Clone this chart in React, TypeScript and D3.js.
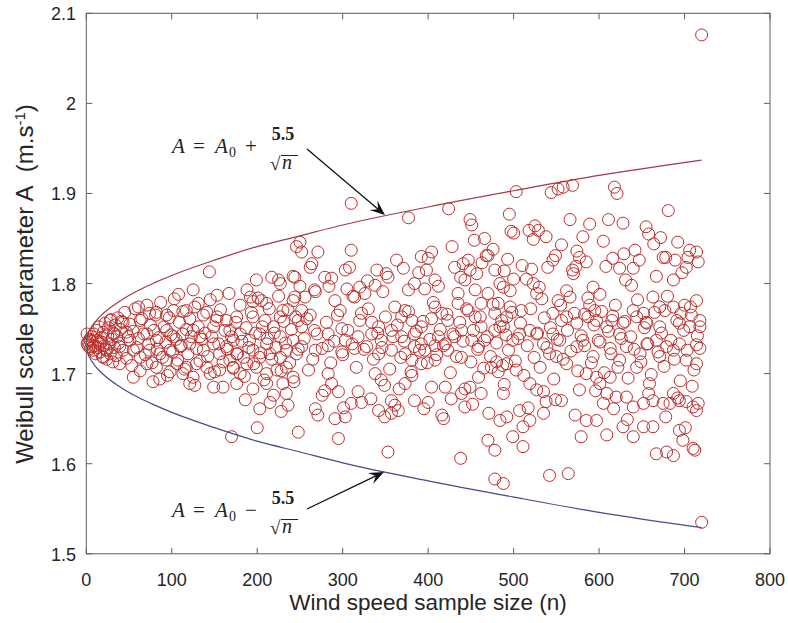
import React from "react";
import * as d3 from "d3";

// ---------- data ----------
const xTicks = [0, 100, 200, 300, 400, 500, 600, 700, 800];
const yTicks = [1.5, 1.6, 1.7, 1.8, 1.9, 2.0, 2.1];
const yTickLabels = ["1.5", "1.6", "1.7", "1.8", "1.9", "2", "2.1"];

const upperN = [0, 2, 5, 10, 20, 40, 60, 80, 100, 150, 200, 250, 300, 400, 500, 600, 720];
const upperA = [1.733, 1.744, 1.750, 1.757, 1.767, 1.781, 1.792, 1.801, 1.809, 1.826, 1.841, 1.853, 1.865, 1.885, 1.903, 1.920, 1.937];
const lowerN = [0, 2, 5, 10, 20, 40, 60, 80, 100, 150, 200, 250, 300, 400, 500, 600, 720];
const lowerA = [1.733, 1.722, 1.716, 1.709, 1.699, 1.685, 1.674, 1.665, 1.657, 1.640, 1.625, 1.613, 1.601, 1.581, 1.563, 1.546, 1.529];

const sampleN = [
  // dense start
  1, 2, 3, 4, 5, 6, 7, 8, 9, 10, 11, 12, 13, 14, 15, 16, 17, 18, 19, 20,
  21, 22, 23, 24, 25, 26, 27, 28, 29, 30, 31, 32, 33, 34, 35, 36, 37, 38, 39, 40,
  // n 0-250
  144, 199, 217, 225, 227, 242, 125, 108, 153, 188, 192, 205, 211, 195, 230, 242, 227,
  131, 117, 102, 94, 82, 61, 74, 63, 141, 153, 164, 176, 149, 168, 180,
  195, 209, 219, 203, 191, 211, 227, 242, 28, 43, 32, 47, 51, 39, 24, 16, 4, 1, 8, 20,
  71, 82, 94, 102, 113, 125, 133, 121, 110, 98, 86, 74, 63, 55,
  137, 149, 156, 164, 172, 176, 184, 168, 195, 203, 215, 227, 234, 246,
  71, 82, 94, 106, 117, 129, 113, 98, 141, 145, 156, 172, 180, 188, 199, 211, 223, 234, 242,
  55, 78, 86, 121, 127, 149, 160, 176, 195, 211, 230, 234, 170, 200, 246,
  41, 43, 45, 47, 49, 51, 53, 55, 57, 59, 61, 63, 65, 67, 69, 71, 73, 75, 77, 79,
  81, 83, 85, 87, 89, 91, 93, 95, 97, 99, 101, 103, 105, 107, 109, 111, 113, 115, 117, 119,
  121, 123, 125, 127, 129, 131, 133, 135, 137, 139,
  142, 145, 147, 150, 152, 155, 157, 160, 162, 165, 167, 170, 172, 175, 177, 180, 182, 185, 187, 190,
  193, 196, 198, 201, 204, 206, 208, 212, 214, 217, 220, 222, 225, 228, 231, 233, 236, 238, 240, 243,
  245, 248, 250, 236, 215, 186, 203, 228, 219,
  // n 244-500 upper
  310, 377, 424, 449, 451, 466, 468, 250, 252, 271, 310,
  262, 264, 279, 287, 303, 308, 340, 351, 353, 371,
  392, 404, 400, 398, 408, 384, 377, 396,
  431, 441, 447, 449, 457, 470, 443, 435, 455,
  478, 484, 470, 482, 462, 478, 244, 244, 256, 267, 252, 248, 262,
  291, 297, 305, 320, 326, 314, 338, 322, 334, 342,
  361, 373, 369, 381, 392, 408, 416, 423, 404,
  435, 447, 455, 462, 439, 431, 451, 466, 478, 486,
  252, 267, 283, 299, 303, 318, 334, 345, 357, 369, 384, 392, 412, 420,
  // n 244-500 lower
  252, 268, 283, 299, 314, 328, 342, 357, 373, 384, 396, 408, 423, 439, 459,
  260, 283, 287, 279, 295, 318, 322, 310, 268, 271, 291, 303,
  338, 345, 349, 373, 381, 404, 420, 342, 349, 357, 365, 357, 361,
  384, 400, 416, 418, 443, 439, 449, 459, 462, 474, 482, 480, 443, 470, 478, 484,
  248, 295, 353, 438, 478, 381, 392, 408,
  // n 480-720 upper
  503, 544, 552, 558, 569, 618, 621, 681, 495, 566, 589, 581, 611, 628, 655, 658, 664,
  497, 500, 518, 525, 529, 538, 523, 692, 706, 714, 704, 678, 689, 702,
  574, 577, 573, 570, 569, 549, 546, 540, 510, 616, 608, 629, 642, 624, 640, 631, 638,
  667, 687, 675, 489, 500, 488, 496, 515, 523, 530, 527, 533, 562, 566, 552,
  593, 601, 589, 583, 595, 616, 640, 644, 652, 655, 663, 671, 677, 687, 700, 714, 696, 708, 718,
  546, 556, 562, 574, 587, 597, 615, 628, 509, 496, 492,
  // n 480-720 lower
  488, 499, 507, 519, 527, 535, 546, 554, 542, 550, 562, 574, 581, 593, 601, 609, 613, 624,
  632, 644, 648, 656, 667, 671, 679, 687, 694, 702, 714, 714, 718, 706, 694, 656, 671, 624,
  492, 503, 488, 519, 527, 535, 538, 556, 535, 577, 585, 597, 601, 613, 609, 605, 620, 632,
  640, 652, 659, 663, 675, 683, 694, 702, 710, 714, 687, 694, 698, 710, 667, 679, 687,
  492, 499, 507, 511, 519, 511, 488, 542, 564, 579, 609, 585, 597, 640, 628, 652, 663,
  // central band n 250-720
  255, 258, 265, 270, 276, 281, 286, 290, 294, 300, 306, 311, 316, 320, 325, 330, 336, 341, 346, 350,
  355, 359, 364, 368, 372, 377, 380, 386, 390, 394, 399, 402, 406, 410, 414, 418, 422, 426, 429, 433,
  437, 441, 445, 450, 453, 458, 461, 465, 469, 473, 476, 480, 484, 487, 491, 494, 498, 502, 505, 508,
  512, 516, 520, 524, 528, 531, 536, 539, 543, 547, 551, 555, 558, 563, 567, 571, 575, 579, 583, 587,
  591, 594, 599, 603, 606, 611, 614, 619, 622, 626, 630, 634, 637, 641, 645, 649, 653, 657, 661, 665,
  669, 673, 676, 680, 684, 688, 691, 695, 699, 703, 707, 711, 715, 718,
  268, 284, 312, 329, 347, 363, 389, 412, 428, 438, 454, 463, 476, 493, 521, 556, 585, 605, 647, 672, 697, 716,
  276, 301, 333, 366, 395, 427, 452, 471, 489, 517, 549, 572, 596, 617, 633, 658, 678, 692, 709, 716, 701, 712,
  720, 720,
];
const sampleA = [
  1.733, 1.735, 1.730, 1.738, 1.728, 1.741, 1.736, 1.726, 1.744, 1.731, 1.722, 1.748, 1.737, 1.729, 1.752, 1.724, 1.740, 1.735, 1.719, 1.746,
  1.731, 1.756, 1.727, 1.716, 1.742, 1.751, 1.733, 1.722, 1.760, 1.738, 1.713, 1.745, 1.729, 1.754, 1.720, 1.741, 1.762, 1.734, 1.711, 1.749,
  1.813, 1.804, 1.807, 1.804, 1.800, 1.808, 1.793, 1.788, 1.787, 1.793, 1.785, 1.781, 1.778, 1.780, 1.770, 1.781, 1.763,
  1.778, 1.770, 1.770, 1.765, 1.768, 1.774, 1.767, 1.759, 1.768, 1.763, 1.759, 1.763, 1.752, 1.748, 1.744,
  1.763, 1.759, 1.752, 1.744, 1.737, 1.733, 1.741, 1.737, 1.759, 1.757, 1.744, 1.746, 1.737, 1.730, 1.726, 1.733, 1.737, 1.744, 1.730, 1.718,
  1.744, 1.737, 1.748, 1.741, 1.744, 1.748, 1.741, 1.733, 1.730, 1.726, 1.722, 1.726, 1.718, 1.726,
  1.726, 1.733, 1.722, 1.730, 1.737, 1.722, 1.718, 1.715, 1.726, 1.718, 1.722, 1.718, 1.726, 1.722,
  1.711, 1.707, 1.715, 1.711, 1.707, 1.711, 1.700, 1.702, 1.707, 1.700, 1.704, 1.707, 1.700, 1.711, 1.707, 1.700, 1.704, 1.707, 1.696,
  1.696, 1.691, 1.694, 1.689, 1.687, 1.685, 1.685, 1.689, 1.683, 1.689, 1.689, 1.678, 1.630, 1.640, 1.841,
  1.758, 1.726, 1.768, 1.717, 1.741, 1.755, 1.709, 1.747, 1.772, 1.729, 1.739, 1.703, 1.761, 1.744, 1.721, 1.776, 1.733, 1.754, 1.712, 1.748,
  1.765, 1.727, 1.740, 1.779, 1.718, 1.752, 1.735, 1.698, 1.762, 1.743, 1.724, 1.783, 1.738, 1.715, 1.757, 1.731, 1.769, 1.705, 1.749, 1.722,
  1.761, 1.741, 1.696, 1.774, 1.728, 1.752, 1.714, 1.738, 1.765, 1.745,
  1.719, 1.782, 1.741, 1.702, 1.759, 1.733, 1.771, 1.713, 1.748, 1.727, 1.789, 1.741, 1.706, 1.757, 1.722, 1.776, 1.736, 1.697, 1.751, 1.729,
  1.768, 1.711, 1.745, 1.784, 1.723, 1.752, 1.693, 1.739, 1.772, 1.716, 1.745, 1.729, 1.786, 1.703, 1.758, 1.734, 1.771, 1.712, 1.749, 1.691,
  1.763, 1.727, 1.797, 1.665, 1.668, 1.671, 1.661, 1.658, 1.676,
  1.889, 1.873, 1.883, 1.871, 1.865, 1.850, 1.831, 1.846, 1.835, 1.835, 1.837,
  1.818, 1.822, 1.807, 1.806, 1.815, 1.818, 1.815, 1.811, 1.807, 1.817,
  1.830, 1.835, 1.828, 1.815, 1.804, 1.800, 1.793, 1.794,
  1.818, 1.822, 1.826, 1.815, 1.811, 1.831, 1.804, 1.789, 1.793,
  1.815, 1.800, 1.789, 1.778, 1.778, 1.767, 1.807, 1.785, 1.785, 1.793, 1.770, 1.759, 1.765,
  1.781, 1.770, 1.794, 1.796, 1.789, 1.785, 1.798, 1.767, 1.757, 1.752,
  1.774, 1.770, 1.763, 1.759, 1.752, 1.774, 1.767, 1.759, 1.761,
  1.778, 1.770, 1.763, 1.752, 1.748, 1.741, 1.737, 1.737, 1.748, 1.759,
  1.752, 1.748, 1.744, 1.750, 1.737, 1.741, 1.744, 1.737, 1.748, 1.741, 1.744, 1.733, 1.741, 1.733,
  1.730, 1.726, 1.731, 1.724, 1.728, 1.730, 1.722, 1.726, 1.722, 1.730, 1.726, 1.731, 1.726, 1.718, 1.730,
  1.704, 1.700, 1.689, 1.681, 1.680, 1.680, 1.668, 1.667, 1.661, 1.654, 1.650, 1.652,
  1.700, 1.693, 1.687, 1.689, 1.698, 1.685, 1.685, 1.659, 1.652, 1.656, 1.659, 1.670, 1.665,
  1.670, 1.668, 1.654, 1.650, 1.683, 1.678, 1.685, 1.696, 1.678, 1.707, 1.702, 1.713, 1.663, 1.626, 1.615, 1.648,
  1.635, 1.628, 1.613, 1.606, 1.583, 1.715, 1.711, 1.715,
  1.902, 1.901, 1.905, 1.907, 1.909, 1.907, 1.900, 1.881, 1.877, 1.871, 1.866, 1.852, 1.871, 1.867, 1.863, 1.855, 1.844,
  1.858, 1.856, 1.859, 1.864, 1.859, 1.852, 1.849, 1.846, 1.837, 1.835, 1.829, 1.829, 1.826, 1.818,
  1.836, 1.829, 1.819, 1.811, 1.815, 1.831, 1.826, 1.818, 1.820, 1.828, 1.819, 1.833, 1.837, 1.817, 1.817, 1.804, 1.798,
  1.808, 1.804, 1.829, 1.814, 1.805, 1.796, 1.792, 1.805, 1.800, 1.796, 1.789, 1.783, 1.792, 1.785, 1.781,
  1.796, 1.788, 1.776, 1.766, 1.770, 1.764, 1.770, 1.763, 1.767, 1.757, 1.785, 1.774, 1.770, 1.774, 1.776, 1.781, 1.767, 1.765, 1.759,
  1.767, 1.759, 1.763, 1.756, 1.763, 1.759, 1.759, 1.756, 1.770, 1.774, 1.763,
  1.752, 1.737, 1.744, 1.748, 1.744, 1.733, 1.744, 1.737, 1.722, 1.719, 1.711, 1.730, 1.737, 1.719, 1.735, 1.752, 1.728, 1.715,
  1.730, 1.707, 1.722, 1.733, 1.737, 1.719, 1.730, 1.726, 1.733, 1.715, 1.711, 1.732, 1.752, 1.752, 1.756, 1.756, 1.752, 1.744,
  1.711, 1.704, 1.678, 1.689, 1.682, 1.680, 1.669, 1.670, 1.656, 1.682, 1.700, 1.696, 1.689, 1.696, 1.678, 1.667, 1.674, 1.674,
  1.663, 1.667, 1.689, 1.670, 1.667, 1.667, 1.670, 1.669, 1.663, 1.659, 1.678, 1.637, 1.626, 1.617, 1.611, 1.613, 1.609,
  1.652, 1.630, 1.659, 1.641, 1.648, 1.619, 1.578, 1.587, 1.589, 1.630, 1.632, 1.648, 1.648, 1.630, 1.641, 1.641, 1.641,
  1.739, 1.761, 1.716, 1.744, 1.728, 1.757, 1.712, 1.736, 1.765, 1.721, 1.748, 1.733, 1.707, 1.759, 1.727, 1.772, 1.716, 1.745, 1.729, 1.763,
  1.705, 1.741, 1.754, 1.718, 1.736, 1.769, 1.702, 1.747, 1.726, 1.758, 1.712, 1.738, 1.779, 1.721, 1.749, 1.731, 1.766, 1.701, 1.744, 1.719,
  1.757, 1.736, 1.772, 1.713, 1.748, 1.727, 1.763, 1.706, 1.741, 1.719, 1.777, 1.734, 1.752, 1.709, 1.743, 1.726, 1.768, 1.714, 1.739, 1.756,
  1.698, 1.731, 1.772, 1.718, 1.745, 1.707, 1.762, 1.729, 1.751, 1.694, 1.738, 1.776, 1.716, 1.748, 1.725, 1.767, 1.703, 1.742, 1.731, 1.784,
  1.712, 1.754, 1.737, 1.769, 1.701, 1.747, 1.722, 1.776, 1.707, 1.739, 1.758, 1.695, 1.741, 1.727, 1.782, 1.713, 1.751, 1.733, 1.699, 1.768,
  1.724, 1.745, 1.708, 1.786, 1.737, 1.716, 1.759, 1.692, 1.748, 1.726, 1.774, 1.704, 1.742, 1.728,
  1.791, 1.797, 1.786, 1.803, 1.791, 1.826, 1.812, 1.797, 1.841, 1.807, 1.848, 1.823, 1.838, 1.827, 1.816, 1.843, 1.824, 1.847, 1.826, 1.851, 1.812, 1.824,
  1.676, 1.662, 1.672, 1.683, 1.661, 1.672, 1.666, 1.656, 1.688, 1.662, 1.671, 1.654, 1.681, 1.661, 1.649, 1.678, 1.652, 1.673, 1.686, 1.667, 1.640, 1.615,
  2.076, 1.535,
];

// ---------- layout ----------
const W = 788;
const H = 623;
const L = 86.3;
const R = 770;
const T = 13.3;
const B = 553.8;

const x = d3.scaleLinear().domain([0, 800]).range([L, R]);
const y = d3.scaleLinear().domain([1.5, 2.1]).range([B, T]);

const axisColor = "#5e5e5e";
const textColor = "#262626";
const markerColor = "#bb2e2c";

function Fraction({ x0, yBase, sign }: { x0: number; yBase: number; sign: string }) {
  const f = "Liberation Serif, DejaVu Serif, serif";
  return (
    <g fill="#222" fontFamily={f}>
      <text x={x0} y={yBase} fontSize={21} fontStyle="italic">A</text>
      <text x={x0 + 21} y={yBase} fontSize={21}>=</text>
      <text x={x0 + 43} y={yBase} fontSize={21} fontStyle="italic">A</text>
      <text x={x0 + 57} y={yBase + 4} fontSize={14}>0</text>
      <text x={x0 + 73} y={yBase} fontSize={21}>{sign}</text>
      <text x={x0 + 111} y={yBase - 13} fontSize={18} textAnchor="middle" fontWeight="bold">5.5</text>
      <text x={x0 + 98} y={yBase + 17} fontSize={19}>√</text>
      <line x1={x0 + 109} x2={x0 + 126} y1={yBase + 2.5} y2={yBase + 2.5} stroke="#222" strokeWidth={1} />
      <text x={x0 + 110} y={yBase + 16} fontSize={20} fontStyle="italic">n</text>
    </g>
  );
}

function Arrow({ x1, y1, x2, y2 }: { x1: number; y1: number; x2: number; y2: number }) {
  const ang = Math.atan2(y2 - y1, x2 - x1);
  const hl = 15;
  const hw = 6;
  const bx = x2 - hl * Math.cos(ang);
  const by = y2 - hl * Math.sin(ang);
  const nx = -Math.sin(ang);
  const ny = Math.cos(ang);
  const mx = x2 - hl * 0.6 * Math.cos(ang);
  const my = y2 - hl * 0.6 * Math.sin(ang);
  const head = `M${x2},${y2} L${bx + nx * hw},${by + ny * hw} L${mx},${my} L${bx - nx * hw},${by - ny * hw} Z`;
  return (
    <g>
      <line x1={x1} y1={y1} x2={mx} y2={my} stroke="#111" strokeWidth={1.3} />
      <path d={head} fill="#111" />
    </g>
  );
}

export default function App() {
  const upperLine = d3
    .line<number>()
    .x((_, i) => x(upperN[i]))
    .y((d) => y(d))
    .curve(d3.curveMonotoneX)(upperA) as string;
  const lowerLine = d3
    .line<number>()
    .x((_, i) => x(lowerN[i]))
    .y((d) => y(d))
    .curve(d3.curveMonotoneX)(lowerA) as string;

  const tickLen = 6;
  const font = "Liberation Sans, Arial, Helvetica, sans-serif";

  return (
    <svg
      width={W}
      height={H}
      viewBox={`0 0 ${W} ${H}`}
      style={{ position: "absolute", left: 0, top: 0, background: "#fff" }}
    >
      <rect x={0} y={0} width={W} height={H} fill="#fff" />
      {/* curves */}
      <path d={upperLine} fill="none" stroke="#a23a48" strokeWidth={1.2} />
      <path d={lowerLine} fill="none" stroke="#454a8c" strokeWidth={1.2} />
      {/* markers */}
      <g fill="none" stroke={markerColor} strokeWidth={1}>
        {sampleN.map((n, i) => (
          <circle key={i} cx={x(n)} cy={y(sampleA[i])} r={6} />
        ))}
      </g>
      {/* box */}
      <rect x={L} y={T} width={R - L} height={B - T} fill="none" stroke={axisColor} strokeWidth={1} />
      {/* x ticks */}
      {xTicks.map((t) => (
        <g key={"x" + t}>
          <line x1={x(t)} x2={x(t)} y1={B} y2={B - tickLen} stroke={axisColor} />
          <line x1={x(t)} x2={x(t)} y1={T} y2={T + tickLen} stroke={axisColor} />
          <text x={x(t)} y={586} textAnchor="middle" fontFamily={font} fontSize={18} fill={textColor}>
            {t}
          </text>
        </g>
      ))}
      {/* y ticks */}
      {yTicks.map((t, i) => (
        <g key={"y" + t}>
          <line x1={L} x2={L + tickLen} y1={y(t)} y2={y(t)} stroke={axisColor} />
          <line x1={R} x2={R - tickLen} y1={y(t)} y2={y(t)} stroke={axisColor} />
          <text x={76} y={y(t) + 7} textAnchor="end" fontFamily={font} fontSize={18} fill={textColor}>
            {yTickLabels[i]}
          </text>
        </g>
      ))}
      {/* axis titles */}
      <text x={428} y={610} textAnchor="middle" fontFamily={font} fontSize={22.5} fill={textColor}>
        Wind speed sample size (n)
      </text>
      <text
        transform={`translate(33,284) rotate(-90)`}
        textAnchor="middle"
        fontFamily={font}
        fontSize={24}
        fill={textColor}
      >
        Weibull scale parameter A{"\u00a0\u00a0"}(m.s<tspan dy={-8} fontSize={15}>-1</tspan>
        <tspan dy={8}>)</tspan>
      </text>
      {/* annotations */}
      <Fraction x0={172} yBase={153} sign="+" />
      <Arrow x1={307} y1={149} x2={385} y2={215} />
      <Fraction x0={172} yBase={517} sign="−" />
      <Arrow x1={307} y1={509} x2={384} y2={472} />
    </svg>
  );
}
